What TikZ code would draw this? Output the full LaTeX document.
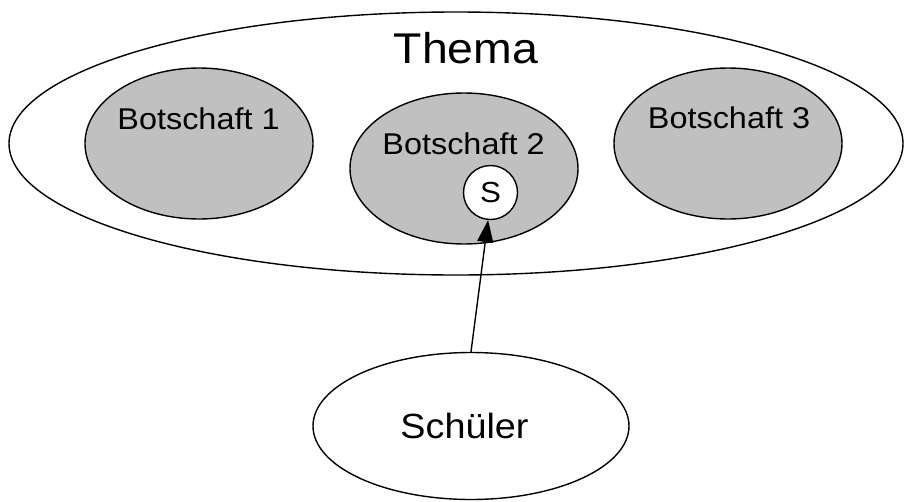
\documentclass[tikz,border=0pt]{standalone}
\usepackage{fontspec}
\setmainfont[FakeStretch=1.08]{Liberation Sans}
\usetikzlibrary{shapes.geometric,arrows.meta}
\definecolor{msgfill}{HTML}{C0C0C0}
\tikzset{
  ell/.style={ellipse, draw=black, line width=1.4pt, inner sep=0pt},
  msg/.style={ell, fill=msgfill, minimum width=228pt, minimum height=151pt},
  lbl/.style={anchor=base, inner sep=0pt},
}
\begin{document}
\begin{tikzpicture}[x=1pt,y=-1pt]
\useasboundingbox (0,0) rectangle (910,501);
\node[ell, minimum width=894pt, minimum height=263pt] (thema) at (456,143.5) {};
\node[lbl, font=\fontsize{43}{43}\selectfont] (themat) at (466,63) {Thema};
\node[msg] (b1) at (199,143.5) {};
\node[msg] (b2) at (464,168.5) {};
\node[msg] (b3) at (728,143.5) {};
\node[lbl, font=\fontsize{30}{30}\selectfont] (b1t) at (198.5,129) {Botschaft 1};
\node[lbl, font=\fontsize{30}{30}\selectfont] (b2t) at (463.5,154) {Botschaft 2};
\node[lbl, font=\fontsize{30}{30}\selectfont] (b3t) at (729,128) {Botschaft 3};
\node[circle, draw=black, line width=1.4pt, fill=white, minimum size=54pt, inner sep=0pt] (s) at (490.5,192.5) {};
\node[lbl, font=\fontsize{29}{29}\selectfont] (st) at (490.5,202) {S};
\node[ell, fill=white, minimum width=316pt, minimum height=147pt] (schueler) at (471,426) {};
\node[lbl, font=\fontsize{35}{35}\selectfont] (schuelert) at (464.5,438) {Schüler};
\draw[line width=1.4pt, -{Triangle[length=22pt,width=16pt]}] (schueler.north) -- (s.265);
\end{tikzpicture}
\end{document}
